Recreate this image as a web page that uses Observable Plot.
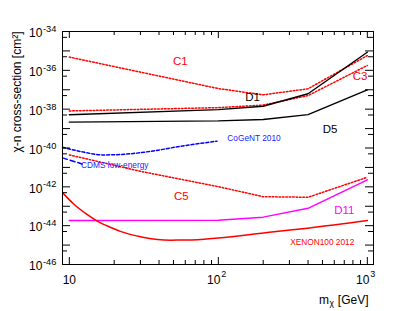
<!DOCTYPE html>
<html><head><meta charset="utf-8">
<script src="https://cdn.jsdelivr.net/npm/d3@7"></script>
<script src="https://cdn.jsdelivr.net/npm/@observablehq/plot@0.6"></script>
<style>body{margin:0;background:#fff}</style>
</head><body><div id="chart"></div>
<script>
// ---- data ----
const massC = [10, 100, 200, 400, 1000];
const sigmaD1 = [5.2e-39, 9.5e-39, 1.41e-38, 6.2e-38, 8.5e-36];
const sigmaD5 = [2.14e-39, 2.5e-39, 2.95e-39, 5.25e-39, 9.8e-38];
const sigmaC1 = [4.8e-36, 1.15e-37, 5.5e-38, 1.12e-37, 5.75e-36];
const sigmaC3 = [8.1e-39, 1.2e-38, 1.62e-38, 5.0e-38, 1.78e-36];
const sigmaD11 = [1.82e-44, 1.9e-44, 2.75e-44, 7.8e-44, 2.3e-42];
const massC5 = [10, 30, 100, 200, 400, 1000];
const sigmaC5 = [4.4e-41, 6.3e-42, 1.02e-42, 3.1e-43, 2.9e-43, 3.1e-42];
const massXenon = [9.1, 10.7, 13, 15.5, 19, 22, 30, 39, 48, 62, 100, 220, 410, 1000];
const sigmaXenon = [4.6e-43, 1.3e-43, 4.0e-44, 1.66e-44, 8.1e-45, 5.1e-45, 2.7e-45, 1.95e-45, 1.8e-45, 1.82e-45, 2.35e-45, 4.6e-45, 7.6e-45, 1.82e-44];
const massCogent = [9, 12, 17, 26, 38, 56, 98];
const sigmaCogent = [1.1e-40, 6.5e-41, 4.4e-41, 5.1e-41, 7.4e-41, 1.23e-40, 2.24e-40];
const massCdms = [9, 12.2];
const sigmaCdms = [3.1e-41, 1.51e-41];

const labelText = ["C1", "D1", "C3", "D5", "C5", "D11"];
const labelMass = [55.6, 170, 893, 562, 56.4, 700];
const labelSigma = [2.82e-36, 4.07e-38, 4.68e-37, 9.55e-40, 3.24e-43, 6.46e-44];
const labelColor = ["#ff0000", "#000000", "#ff0000", "#000000", "#ff0000", "#ff00ff"];

const noteText = ["CoGeNT 2010", "CDMS low-energy", "XENON100 2012"];
const noteMass = [115, 12.0, 498];
const noteSigma = [3.09e-40, 1.29e-41, 1.41e-45];
const noteColor = ["#2222ff", "#2222ff", "#ff0000"];
const noteAnchor = ["start", "start", "middle"];

const yLabelExp = [-34, -36, -38, -40, -42, -44, -46];
const yDecadeExp = [-34, -35, -36, -37, -38, -39, -40, -41, -42, -43, -44, -45, -46];
const xLabelExp = [1, 2, 3];
const xTitle = "[GeV]";
const yTitle = "\u03c7-n cross-section [cm\u00b2]";

// ---- build tables ----
const series = (ms, ss) => ms.map((m, i) => ({m, s: ss[i]}));
const D1 = series(massC, sigmaD1), D5 = series(massC, sigmaD5);
const C1 = series(massC, sigmaC1), C3 = series(massC, sigmaC3);
const D11 = series(massC, sigmaD11), C5 = series(massC5, sigmaC5);
const XE = series(massXenon, sigmaXenon), CG = series(massCogent, sigmaCogent), CD = series(massCdms, sigmaCdms);
const labels = labelText.map((t, i) => ({t, m: labelMass[i], s: labelSigma[i], c: labelColor[i]}));
const notes = noteText.map((t, i) => ({t, m: noteMass[i], s: noteSigma[i], c: noteColor[i], a: noteAnchor[i]}));

const yMajor = yDecadeExp.map(e => Math.pow(10, e));
const yLab = yLabelExp.map(e => Math.pow(10, e));
const yMinor = yDecadeExp.filter(e => e < -34).map(e => 5 * Math.pow(10, e));
const xMajor = xLabelExp.map(e => Math.pow(10, e));
const xMinor = [];
for (const d of [1, 10, 100]) for (let k = 2; k <= 9; k++) { const v = k * d; if (v > 9 && v < 1100) xMinor.push(v); }

const W = 415, H = 311, ML = 62, MR = 42, MT = 31, MB = 47;
const FW = W - ML - MR, FH = H - MT - MB;
const font = "Liberation Sans, Arial, Helvetica, sans-serif";
const dotted = "1.6,1.8";

const plot = Plot.plot({
  width: W, height: H,
  marginLeft: ML, marginRight: MR, marginTop: MT, marginBottom: MB,
  x: {type: "log", domain: [9, 1100], axis: null},
  y: {type: "log", domain: [1e-46, 1e-34], axis: null},
  style: {fontFamily: font, background: "white", overflow: "visible"},
  marks: [
    Plot.line(C1, {x: "m", y: "s", stroke: "#ff0000", strokeWidth: 1.5, strokeDasharray: dotted}),
    Plot.line(C3, {x: "m", y: "s", stroke: "#ff0000", strokeWidth: 1.5, strokeDasharray: dotted}),
    Plot.line(C5, {x: "m", y: "s", stroke: "#ff0000", strokeWidth: 1.5, strokeDasharray: dotted}),
    Plot.line(D1, {x: "m", y: "s", stroke: "#000000", strokeWidth: 1.4}),
    Plot.line(D5, {x: "m", y: "s", stroke: "#000000", strokeWidth: 1.4}),
    Plot.line(D11, {x: "m", y: "s", stroke: "#ff00ff", strokeWidth: 1.5}),
    Plot.line(XE, {x: "m", y: "s", stroke: "#ff0000", strokeWidth: 1.5, curve: "monotone-x"}),
    Plot.line(CG, {x: "m", y: "s", stroke: "#0000ff", strokeWidth: 1.5, strokeDasharray: "3,2", curve: "monotone-x"}),
    Plot.line(CD, {x: "m", y: "s", stroke: "#0000ff", strokeWidth: 1.5, strokeDasharray: "5,3"}),
    Plot.text(labels, {x: "m", y: "s", text: "t", fill: "c", fontSize: 11.5, lineAnchor: "middle"}),
    Plot.text(notes, {x: "m", y: "s", text: "t", fill: "c", fontSize: 8.3, lineAnchor: "middle", textAnchor: "start", filter: d => d.a === "start"}),
    Plot.text(notes, {x: "m", y: "s", text: "t", fill: "c", fontSize: 8.3, lineAnchor: "middle", textAnchor: "middle", filter: d => d.a === "middle"}),
    Plot.frame({stroke: "#000", strokeWidth: 1}),
    // y ticks (inward) left & right
    Plot.tickY(yMajor, {y: d => d, insetRight: FW - 8, stroke: "#000"}),
    Plot.tickY(yMinor, {y: d => d, insetRight: FW - 5, stroke: "#000"}),
    Plot.tickY(yMajor, {y: d => d, insetLeft: FW - 8, stroke: "#000"}),
    Plot.tickY(yMinor, {y: d => d, insetLeft: FW - 5, stroke: "#000"}),
    // x ticks (inward) bottom & top
    Plot.tickX(xMajor, {x: d => d, insetTop: FH - 7, stroke: "#000"}),
    Plot.tickX(xMinor, {x: d => d, insetTop: FH - 4, stroke: "#000"}),
    Plot.tickX(xMajor, {x: d => d, insetBottom: FH - 7, stroke: "#000"}),
    Plot.tickX(xMinor, {x: d => d, insetBottom: FH - 4, stroke: "#000"}),
    // y tick labels: 10^e
    Plot.text(yLab, {y: d => d, frameAnchor: "left", text: () => "10", textAnchor: "start", dx: -33.5, dy: 5.8, lineAnchor: "bottom", fontSize: 12, fill: "#000"}),
    Plot.text(yLab, {y: d => d, frameAnchor: "left", text: d => String(Math.round(Math.log10(d))), textAnchor: "start", dx: -19.5, dy: 0.5, lineAnchor: "bottom", fontSize: 9.3, fill: "#000"}),
    // x tick labels
    Plot.text(xMajor.filter(d => d === 10), {x: d => d, frameAnchor: "bottom", text: () => "10", textAnchor: "middle", dy: 19.5, lineAnchor: "bottom", fontSize: 12, fill: "#000"}),
    Plot.text(xMajor.filter(d => d > 10), {x: d => d, frameAnchor: "bottom", text: () => "10", textAnchor: "end", dx: 2, dy: 19.5, lineAnchor: "bottom", fontSize: 12, fill: "#000"}),
    Plot.text(xMajor.filter(d => d > 10), {x: d => d, frameAnchor: "bottom", text: d => String(Math.round(Math.log10(d))), textAnchor: "start", dx: 3, dy: 12.8, lineAnchor: "bottom", fontSize: 9, fill: "#000"}),
    // axis titles
    Plot.text([yTitle], {frameAnchor: "top-left", text: d => d, rotate: -90, textAnchor: "end", lineAnchor: "middle", dx: -45, dy: 0, fontSize: 12, fill: "#000"}),
    Plot.text([xTitle], {frameAnchor: "bottom-right", text: d => d, textAnchor: "end", lineAnchor: "bottom", dx: -5, dy: 39, fontSize: 12, fill: "#000"}),
    Plot.text(["\u03c7"], {frameAnchor: "bottom-right", text: d => d, textAnchor: "end", lineAnchor: "bottom", dx: -39.5, dy: 41.5, fontSize: 8.5, fill: "#000"}),
    Plot.text(["m"], {frameAnchor: "bottom-right", text: d => d, textAnchor: "end", lineAnchor: "bottom", dx: -44.5, dy: 39, fontSize: 12, fill: "#000"})
  ]
});
document.getElementById("chart").appendChild(plot);
</script>
</body></html>
